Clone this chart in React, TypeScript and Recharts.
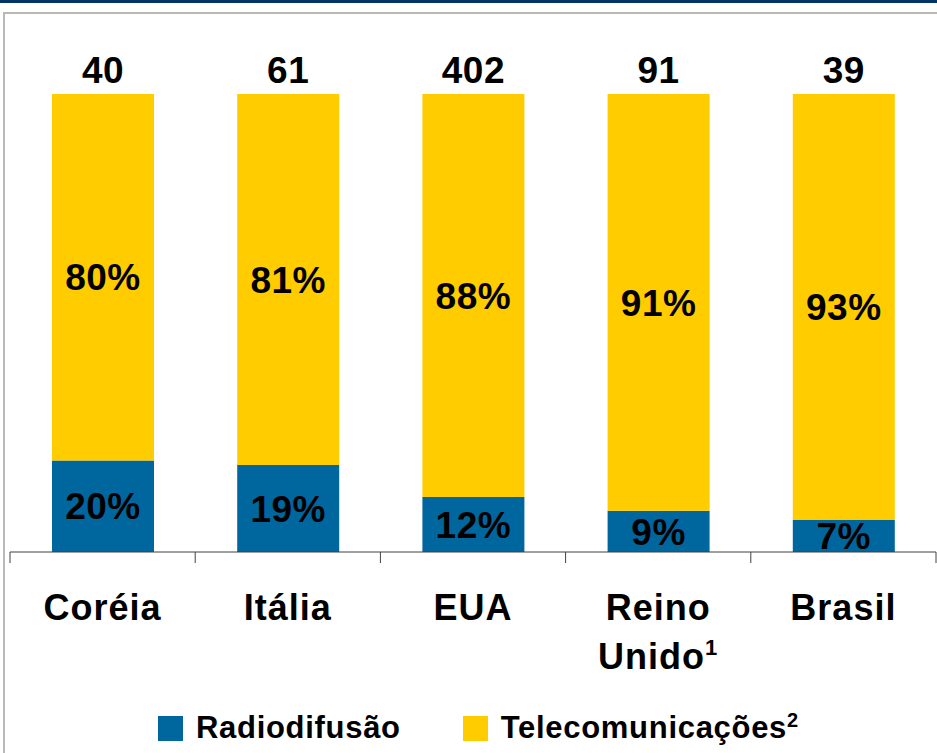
import { BarChart, Bar, XAxis, YAxis, LabelList, Legend } from 'recharts'

const countries = ['Coréia', 'Itália', 'EUA', 'Reino Unido', 'Brasil']
const footnotes = ['', '', '', '1', '']
const totals = [40, 61, 402, 91, 39]
const radiodifusao = [20, 19, 12, 9, 7]
const telecomunicacoes = [80, 81, 88, 91, 93]

const FONT = '"Liberation Sans", Arial, sans-serif'
const BLUE = '#00669e'
const YELLOW = '#ffcc00'

const data = countries.map((name, i) => ({
  name,
  radio: radiodifusao[i],
  telecom: telecomunicacoes[i],
}))

function CountryTick(props: any) {
  const { x, y, payload, index } = props
  const half = payload?.offset || 92.6
  const words: string[] = String(payload.value).split(' ')
  const note = footnotes[index] || footnotes[countries.indexOf(payload.value)]
  const last = index === countries.length - 1
  return (
    <g>
      <line x1={x - half} y1={y} x2={x - half} y2={y + 11} stroke="#404040" strokeWidth={1} />
      {last && <line x1={x + half} y1={y} x2={x + half} y2={y + 11} stroke="#404040" strokeWidth={1} />}
      {words.map((w, i) => (
        <text
          key={w}
          x={x}
          y={y + 68 + i * 49}
          textAnchor="middle"
          fontFamily={FONT}
          fontWeight="bold"
          fontSize={36}
          letterSpacing={1}
          fill="#000"
        >
          {w}
          {note && i === words.length - 1 && (
            <tspan fontSize={22} dy={-14}>{note}</tspan>
          )}
        </text>
      ))}
    </g>
  )
}

function TotalLabel(props: any) {
  const { x, y, width, index } = props
  return (
    <text
      x={x + width / 2}
      y={y - 11}
      textAnchor="middle"
      fontFamily={FONT}
      fontWeight="bold"
      fontSize={37}
      letterSpacing={0.5}
      fill="#000"
    >
      {totals[index]}
    </text>
  )
}

function LegendBox() {
  const item = (color: string, label: React.ReactNode, gapAfter: number) => (
    <div style={{ display: 'flex', alignItems: 'center', marginRight: gapAfter }}>
      <div style={{ width: 25, height: 25, background: color, marginRight: 13 }} />
      <span style={{ fontFamily: FONT, fontWeight: 'bold', fontSize: 31, letterSpacing: 0.7, color: '#000' }}>
        {label}
      </span>
    </div>
  )
  return (
    <div style={{ display: 'flex', alignItems: 'center', height: 50, paddingLeft: 148 }}>
      {item(BLUE, 'Radiodifusão', 62)}
      {item(YELLOW, <>Telecomunicações<sup style={{ fontSize: 20, verticalAlign: 'super', lineHeight: 0 }}>2</sup></>, 0)}
    </div>
  )
}

const pctLabel = {
  position: 'center' as const,
  formatter: (v: any) => `${v}%`,
  fill: '#000',
  fontFamily: FONT,
  fontWeight: 'bold',
  fontSize: 37,
  letterSpacing: 0.5,
}

export default function App() {
  return (
    <div style={{ position: 'absolute', left: 0, top: 0, width: 937, height: 753, background: '#fff', overflow: 'hidden' }}>
      <div style={{ position: 'absolute', left: 0, top: 0, width: 937, height: 3, background: '#003366' }} />
      <div
        style={{
          position: 'absolute',
          left: 3,
          top: 12,
          right: 0,
          bottom: 0,
          borderTop: '2px solid #b8b8b8',
          borderLeft: '2px solid #b8b8b8',
        }}
      />
      <div style={{ position: 'absolute', left: 0, top: 0 }}>
        <BarChart
          width={937}
          height={753}
          data={data}
          margin={{ top: 94, right: 1, left: 10, bottom: 0 }}
          barSize={102}
        >
          <XAxis
            dataKey="name"
            height={151}
            tickSize={0}
            tickMargin={0}
            tickLine={false}
            axisLine={{ stroke: '#404040', strokeWidth: 1 }}
            tick={<CountryTick />}
            interval={0}
          />
          <YAxis hide domain={[0, 100]} />
          <Legend verticalAlign="bottom" height={50} content={<LegendBox />} />
          <Bar dataKey="radio" stackId="a" fill={BLUE} isAnimationActive={false}>
            <LabelList dataKey="radio" {...pctLabel} />
          </Bar>
          <Bar dataKey="telecom" stackId="a" fill={YELLOW} isAnimationActive={false}>
            <LabelList dataKey="telecom" {...pctLabel} />
            <LabelList dataKey="telecom" content={<TotalLabel />} />
          </Bar>
        </BarChart>
      </div>
    </div>
  )
}
